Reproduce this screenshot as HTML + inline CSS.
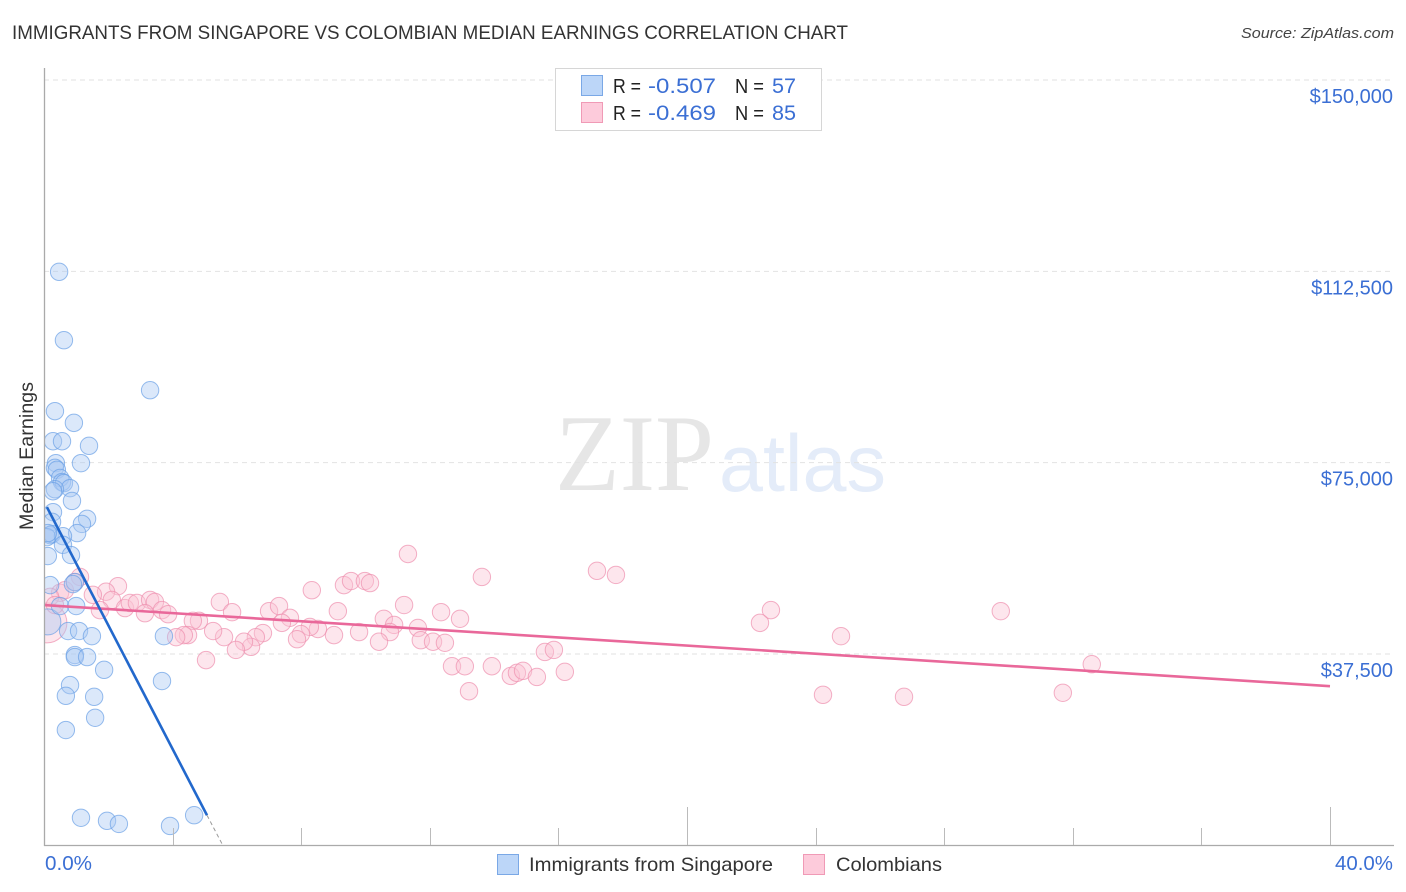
<!DOCTYPE html>
<html lang="en">
<head>
<meta charset="utf-8">
<title>Immigrants from Singapore vs Colombian Median Earnings Correlation Chart</title>
<style>
html,body{margin:0;padding:0;background:#fff;width:1406px;height:892px;overflow:hidden}
svg{display:block;font-family:"Liberation Sans",sans-serif}
</style>
</head>
<body>
<svg id="chart" xmlns="http://www.w3.org/2000/svg" width="1406" height="892" viewBox="0 0 1406 892">
  <defs>
    <clipPath id="plot-clip"><rect x="45" y="60" width="1350" height="785"/></clipPath>
  </defs>
  <rect x="0" y="0" width="1406" height="892" fill="#fff"/>
  <text x="12" y="39" font-size="19" fill="#333" textLength="836" lengthAdjust="spacingAndGlyphs">IMMIGRANTS FROM SINGAPORE VS COLOMBIAN MEDIAN EARNINGS CORRELATION CHART</text>
  <text x="1241" y="38" font-size="15" font-style="italic" fill="#444" textLength="153" lengthAdjust="spacingAndGlyphs">Source: ZipAtlas.com</text>
  <g>
    <text x="555" y="490" font-family="'Liberation Serif',serif" font-size="109" fill="#e6e6e6" textLength="159" lengthAdjust="spacingAndGlyphs">ZIP</text>
    <text x="719" y="491" font-size="81" fill="#e4ecf9" textLength="167" lengthAdjust="spacingAndGlyphs">atlas</text>
  </g>
  <g id="grid"></g>
  <g id="points-colombian" clip-path="url(#plot-clip)"></g>
  <g id="points-singapore" clip-path="url(#plot-clip)"></g>
  <g id="trends"></g>
  <g id="axes"></g>
  <text transform="translate(33,456) rotate(-90)" text-anchor="middle" font-size="19" fill="#333" textLength="148" lengthAdjust="spacingAndGlyphs">Median Earnings</text>
  <g id="y-labels"></g>
  <text x="45" y="870" font-size="20" fill="#3b6fd4" textLength="47" lengthAdjust="spacingAndGlyphs">0.0%</text>
  <text x="1335" y="870" font-size="20" fill="#3b6fd4" textLength="58" lengthAdjust="spacingAndGlyphs">40.0%</text>
  <g>
    <rect x="555.5" y="68.5" width="266" height="62" fill="#fff" stroke="#d6d6d6" stroke-width="1"/>
    <rect x="581.5" y="75.5" width="21" height="20" fill="#bcd6f8" stroke="#7aa8e6" stroke-width="1"/>
    <rect x="581.5" y="102.5" width="21" height="20" fill="#fdcbdb" stroke="#f09ab6" stroke-width="1"/>
    <text x="613" y="93" font-size="20" fill="#222" textLength="28" lengthAdjust="spacingAndGlyphs">R =</text>
    <text x="648" y="93" font-size="21" fill="#3b6fd4" textLength="68" lengthAdjust="spacingAndGlyphs">-0.507</text>
    <text x="735" y="93" font-size="20" fill="#222" textLength="29" lengthAdjust="spacingAndGlyphs">N =</text>
    <text x="772" y="93" font-size="21" fill="#3b6fd4" textLength="24" lengthAdjust="spacingAndGlyphs">57</text>
    <text x="613" y="120" font-size="20" fill="#222" textLength="28" lengthAdjust="spacingAndGlyphs">R =</text>
    <text x="648" y="120" font-size="21" fill="#3b6fd4" textLength="68" lengthAdjust="spacingAndGlyphs">-0.469</text>
    <text x="735" y="120" font-size="20" fill="#222" textLength="29" lengthAdjust="spacingAndGlyphs">N =</text>
    <text x="772" y="120" font-size="21" fill="#3b6fd4" textLength="24" lengthAdjust="spacingAndGlyphs">85</text>
  </g>
  <g>
    <rect x="497.5" y="854.5" width="21" height="20" fill="#bcd6f8" stroke="#7aa8e6" stroke-width="1"/>
    <text x="529" y="871" font-size="19.5" fill="#333" textLength="244" lengthAdjust="spacingAndGlyphs">Immigrants from Singapore</text>
    <rect x="803.5" y="854.5" width="21" height="20" fill="#fdcbdb" stroke="#f09ab6" stroke-width="1"/>
    <text x="836" y="871" font-size="19.5" fill="#333" textLength="106" lengthAdjust="spacingAndGlyphs">Colombians</text>
  </g>
</svg>
<script>
// Chart data (x = percent of immigrants from Singapore / Colombians, y = median earnings in USD)
const yTickValues = [37500, 75000, 112500, 150000];
const yTickLabels = ["$37,500", "$75,000", "$112,500", "$150,000"];
const xTickValues = [0, 4, 8, 12, 16, 20, 24, 28, 32, 36, 40];
const xMajorTicks = [20, 40];

const singaporeX = [0.47,0.62,3.30,0.34,0.93,0.28,0.56,1.40,1.15,0.37,0.34,0.40,0.50,0.56,0.62,0.81,0.34,0.28,0.87,0.28,1.34,1.18,1.03,0.25,0.19,0.25,0.09,0.59,0.59,0.84,0.12,0.19,0.96,0.50,1.00,0.75,1.09,1.49,3.73,0.96,0.96,1.34,1.87,3.67,0.81,0.68,1.56,1.59,0.68,1.15,1.96,2.33,3.92,4.67,0.90,0.12];
const singaporeY = [112400,99000,89200,85100,82800,79200,79200,78300,74900,74900,74000,73600,72000,71200,71000,70000,69800,69400,67500,65300,64000,63000,61200,63400,60800,61000,60400,60600,58900,56900,56700,51000,51600,46900,46900,42000,42000,41000,41000,37300,36900,36900,34400,32200,31400,29300,29100,25000,22600,5400,4800,4200,3800,5900,51200,61200];
const singaporeLargeX = [0.12];
const singaporeLargeY = [43800];

const colombianX = [11.32,5.47,5.85,7.00,7.31,8.33,9.33,9.55,9.98,10.14,7.65,7.40,9.14,11.20,10.57,10.89,10.76,12.35,12.94,11.63,11.72,12.10,12.47,10.42,9.80,9.02,8.52,8.27,7.99,7.87,6.81,6.59,6.44,6.22,5.97,5.60,5.26,4.82,4.63,4.48,4.35,5.04,12.69,13.09,13.22,13.62,17.20,17.79,13.93,14.52,14.71,14.90,15.33,16.20,15.58,15.86,22.61,22.27,24.79,29.76,32.59,31.69,26.75,24.23,1.12,2.30,1.93,2.11,1.52,1.74,2.52,2.67,2.89,3.30,3.45,3.14,3.67,3.86,4.11,0.50,0.65,0.19,0.96,0.34];
const colombianY = [57100,47700,45700,45900,46900,50000,51000,51800,51800,51400,44600,43600,45900,47100,44400,43200,41800,45700,44400,42600,40200,39900,39700,39900,41800,41200,42400,42800,41400,40400,41600,40800,38900,39900,38300,40800,42000,44000,44000,41200,41200,36300,35100,35100,30200,52600,53800,53000,35100,33200,33800,34200,33000,34000,37900,38300,46100,43600,41000,45900,35500,29900,29100,29500,52600,50800,49700,48100,49100,46100,46500,47500,47500,48100,47700,45500,46100,45300,40800,49500,50000,48700,51600,47100];
const colombianLargeX = [0.09];
const colombianLargeY = [43600];

const singaporeTrendX = [0.09, 5.07];
const singaporeTrendY = [66300, 5900];
const singaporeTrendExtX = [5.07, 5.54];
const singaporeTrendExtY = [5900, 260];
const colombianTrendX = [0, 40];
const colombianTrendY = [47100, 31200];

// Axis functions
const NS = "http://www.w3.org/2000/svg";
function xScale(p) { return 44 + (p / 40) * 1286; }
function yScale(v) { return 654 - ((v - 37500) / 37500) * 191.33; }
function make(tag, attrs, parent) {
  const el = document.createElementNS(NS, tag);
  for (const k in attrs) el.setAttribute(k, attrs[k]);
  parent.appendChild(el);
  return el;
}

// Gridlines and y labels
const gridG = document.getElementById("grid");
const yLabelG = document.getElementById("y-labels");
yTickValues.forEach(function (v, i) {
  const y = yScale(v);
  const line = make("line", { x1: 44, x2: 1393, y1: y, y2: y, stroke: "#e2e2e2", "stroke-width": 1, "stroke-dasharray": "5 4" }, gridG);
  
  
  const t = make("text", { x: 1393, y: y + 23, "text-anchor": "end", "font-size": 20, fill: "#3b6fd4" }, yLabelG);
  t.textContent = yTickLabels[i];
  
  
});

// Axes and ticks
const axesG = document.getElementById("axes");
const yAxis = make("line", { x1: 44.5, x2: 44.5, y1: 68, y2: 846, stroke: "#aaa", "stroke-width": 1.3 }, axesG);


const xAxis = make("line", { x1: 44, x2: 1394, y1: 845.5, y2: 845.5, stroke: "#aaa", "stroke-width": 1.3 }, axesG);


xTickValues.forEach(function (p) {
  if (p === 0) return;
  const x = Math.round(xScale(p)) + 0.5;
  const top = xMajorTicks.indexOf(p) >= 0 ? 807 : 828;
  const tick = make("line", { x1: x, x2: x, y1: top, y2: 845, stroke: "#bbb", "stroke-width": 1 }, axesG);
  
  
});

// Points
function drawPoints(groupId, xs, ys, r, fill, stroke, name) {
  const g = document.getElementById(groupId);
  xs.forEach(function (p, i) {
    const c = make("circle", { cx: xScale(p), cy: yScale(ys[i]), r: r, fill: fill, "fill-opacity": 0.42, stroke: stroke, "stroke-opacity": 0.7, "stroke-width": 1 }, g);
    
    
  });
}
drawPoints("points-colombian", colombianLargeX, colombianLargeY, 20, "#fbc3d5", "#ee8fae", "colombian-point-large");
drawPoints("points-colombian", colombianX, colombianY, 8.7, "#fbc3d5", "#ee8fae", "colombian-point");
drawPoints("points-singapore", singaporeLargeX, singaporeLargeY, 13, "#a9c9f3", "#6a9fe6", "singapore-point-large");
drawPoints("points-singapore", singaporeX, singaporeY, 8.7, "#a9c9f3", "#6a9fe6", "singapore-point");

// Trend lines
const trendG = document.getElementById("trends");
const colombianTrend = make("line", { x1: xScale(colombianTrendX[0]), y1: yScale(colombianTrendY[0]), x2: xScale(colombianTrendX[1]), y2: yScale(colombianTrendY[1]), stroke: "#e9689a", "stroke-width": 2.6 }, trendG);


const singaporeTrend = make("line", { x1: xScale(singaporeTrendX[0]), y1: yScale(singaporeTrendY[0]), x2: xScale(singaporeTrendX[1]), y2: yScale(singaporeTrendY[1]), stroke: "#2268cc", "stroke-width": 2.6 }, trendG);


const singaporeExt = make("line", { x1: xScale(singaporeTrendExtX[0]), y1: yScale(singaporeTrendExtY[0]), x2: xScale(singaporeTrendExtX[1]), y2: yScale(singaporeTrendExtY[1]), stroke: "#999", "stroke-width": 1, "stroke-dasharray": "4 3" }, trendG);


</script>
</body>
</html>
